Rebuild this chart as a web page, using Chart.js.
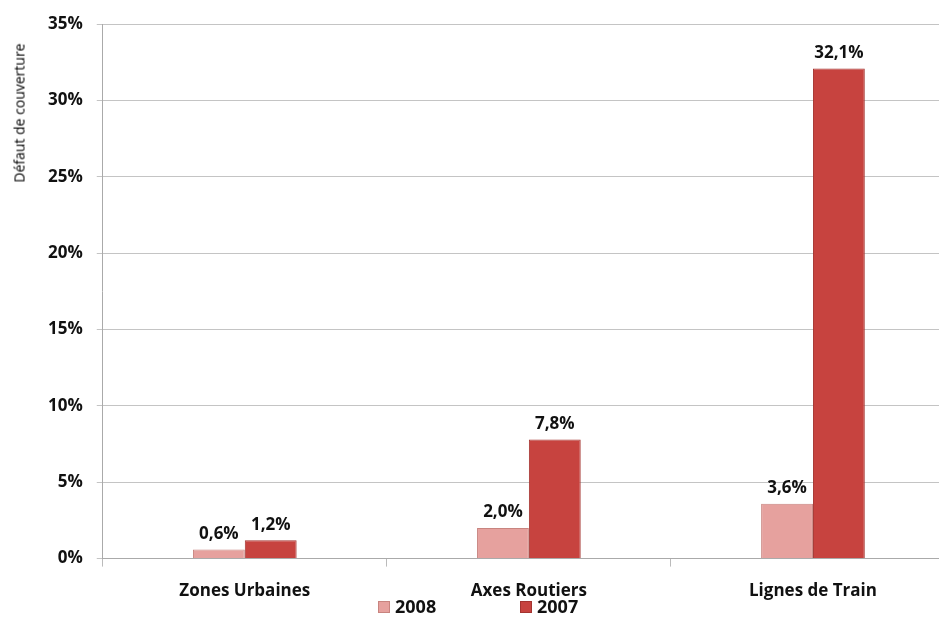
<!DOCTYPE html>
<html>
<head>
<meta charset="utf-8">
<script src="https://cdn.jsdelivr.net/npm/chart.js@4"></script>
<style>
  html, body { margin: 0; padding: 0; background: #fff; overflow: hidden; }
  #wrap { position: relative; width: 939px; height: 626px; overflow: hidden; }
  #box { position: absolute; left: 0; top: 0; width: 955px; height: 626px; }
  #ytitle {
    position: absolute; left: 19px; top: 113px;
    transform: translate(-50%, -50%) rotate(-90deg);
    font: 14px "Open Sans", sans-serif; color: #000; white-space: nowrap;
  }
  .leg {
    position: absolute; top: 594px; height: 22px; line-height: 22px;
    font: bold 18px "Open Sans", sans-serif; color: #111; white-space: nowrap;
  }
  .leg i { display: inline-block; width: 10px; height: 10px; margin-right: 5px; vertical-align: 0px; }
</style>
</head>
<body>
<div id="wrap">
  <div id="box"><canvas id="chart"></canvas></div>
  <div id="ytitle">Défaut de couverture</div>
  <div id="legend"></div>
</div>
<script>
const categories = ['Zones Urbaines', 'Axes Routiers', 'Lignes de Train'];
const values2008 = [0.6, 2.0, 3.6];
const values2007 = [1.2, 7.8, 32.1];
const seriesNames = ['2008', '2007'];
const seriesColors = ['#e6a19e', '#c7433f'];
const seriesBorders = ['#c8847f', '#a43430'];

function fmt(v) {
  return v.toFixed(1).replace('.', ',') + '%';
}

// draws the value above each bar
const barLabels = {
  id: 'barLabels',
  afterDatasetsDraw(chart) {
    const ctx = chart.ctx;
    ctx.save();
    ctx.font = 'bold 17px "Open Sans", sans-serif';
    ctx.fillStyle = '#111';
    ctx.textAlign = 'center';
    ctx.textBaseline = 'bottom';
    chart.data.datasets.forEach((ds, i) => {
      chart.getDatasetMeta(i).data.forEach((bar, j) => {
        ctx.fillText(fmt(ds.data[j]), bar.x, bar.y - 7);
      });
    });
    ctx.restore();
  }
};

// legend as html, spaced like the original
const legendX = [378, 520];
const legendEl = document.getElementById('legend');
seriesNames.forEach((name, i) => {
  const d = document.createElement('div');
  d.className = 'leg';
  d.style.left = legendX[i] + 'px';
  d.innerHTML = '<i style="background:' + seriesColors[i] + ';border:1px solid ' + seriesBorders[i] + '"></i>' + name;
  legendEl.appendChild(d);
});

new Chart(document.getElementById('chart'), {
  type: 'bar',
  data: {
    labels: categories,
    datasets: seriesNames.map((name, i) => ({
      label: name,
      data: i === 0 ? values2008 : values2007,
      backgroundColor: seriesColors[i],
      borderColor: seriesBorders[i],
      borderWidth: 1
    }))
  },
  options: {
    responsive: true,
    maintainAspectRatio: false,
    animation: false,
    layout: { padding: { left: 34, top: 21, right: 0, bottom: 11 } },
    datasets: {
      bar: { barPercentage: 1, categoryPercentage: 0.365 }
    },
    plugins: {
      legend: { display: false },
      tooltip: { enabled: false }
    },
    scales: {
      x: {
        offset: true,
        grid: { drawOnChartArea: false, drawTicks: true, tickLength: 8, offset: true, color: '#bbb' },
        border: { color: '#aaa' },
        ticks: { color: '#111', padding: 14, font: { family: 'Open Sans', size: 17, weight: 'bold' } }
      },
      y: {
        min: 0,
        max: 35,
        ticks: {
          stepSize: 5,
          color: '#111',
          padding: 14,
          callback: v => v + '%',
          font: { family: 'Open Sans', size: 17, weight: 'bold' }
        },
        grid: { color: '#c4c4c4', tickLength: 6 },
        border: { color: '#aaa' }
      }
    }
  },
  plugins: [barLabels]
});
</script>
</body>
</html>
